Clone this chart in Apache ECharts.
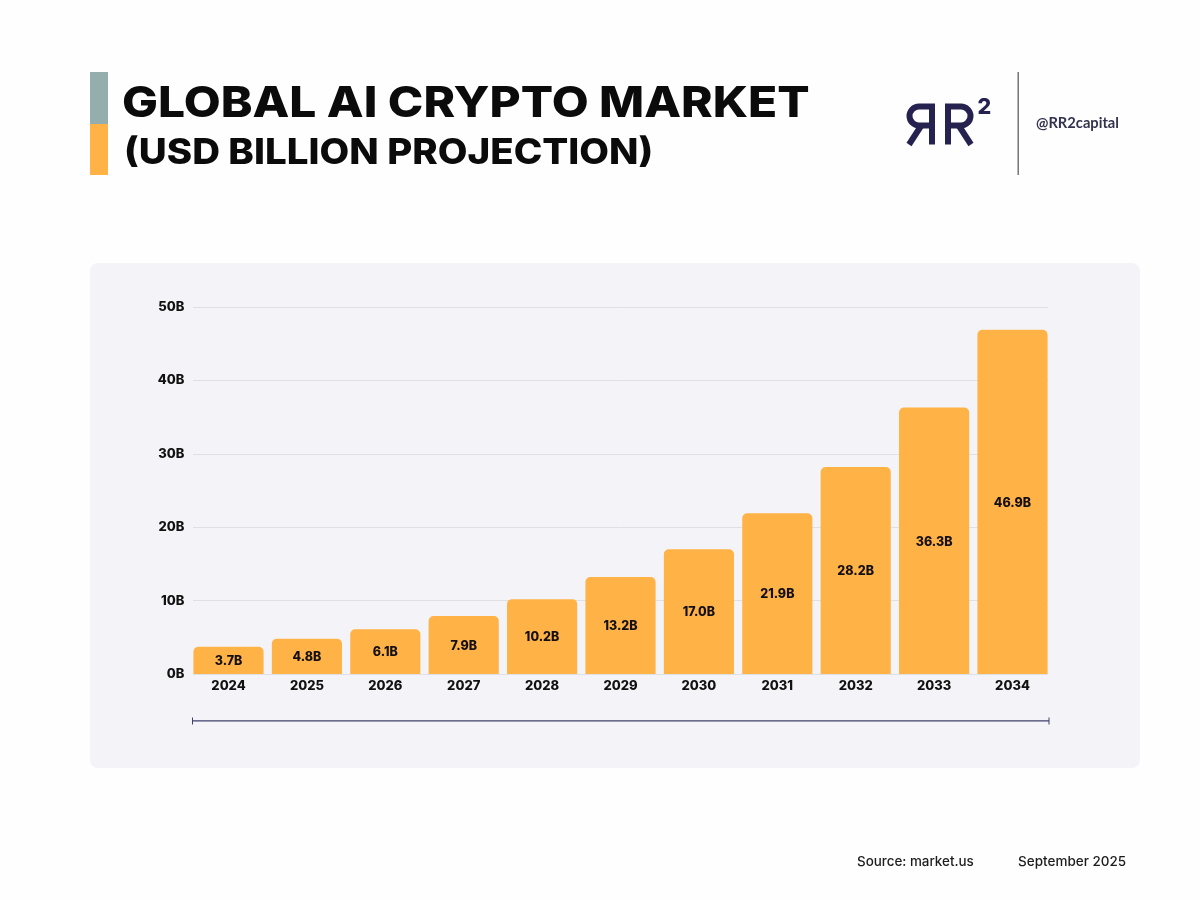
<!DOCTYPE html>
<html><head><meta charset="utf-8">
<style>html,body{margin:0;padding:0;background:#fefefe}#c{width:1200px;height:900px}</style>
<script src="https://cdn.jsdelivr.net/npm/echarts@6/dist/echarts.min.js"></script>
</head><body><div id="c"></div>
<script>
const years = ['2024','2025','2026','2027','2028','2029','2030','2031','2032','2033','2034'];
const marketValues = [3.7,4.8,6.1,7.9,10.2,13.2,17.0,21.9,28.2,36.3,46.9];
const valueTicks = [0,10,20,30,40,50];
const titleLine = 'GLOBAL AI CRYPTO MARKET';
const subtitleLine = '(USD BILLION PROJECTION)';
const handle = '@RR2capital';
const sourceText = 'Source: market.us';
const dateText = 'September 2025';

const F = 'Inter, sans-serif';
const chart = echarts.init(document.getElementById('c'), null, {renderer:'canvas'});
function txt(x,y,text,size,weight,color,extra){
  return Object.assign({type:'text',x:x,y:y,z:10,style:{text:text,font:weight+' '+size+'px '+F,fill:color,textVerticalAlign:'middle'}},extra||{});
}
const logoStroke = {fill:null,stroke:'#26224f',lineWidth:6,lineJoin:'miter'};
function logoR(m){
  const X = x => m ? 1880 - x : x;
  const P = pts => ({type:'polyline',z:10,shape:{points:pts.map(p=>[X(p[0]),p[1]])},style:logoStroke});
  return [
    P([[948,144.5],[948,106.5],[961,106.5]]),
    {type:'arc',z:10,shape:{cx:X(961),cy:116,r:9.5,
      startAngle:m?Math.PI/2:-Math.PI/2,endAngle:m?Math.PI*1.5:Math.PI/2,clockwise:true},style:logoStroke},
    P([[961,125.5],[948,125.5]]),
    P([[959,126],[971,144.5]])
  ];
}
const panel = '#f4f4f8';
chart.setOption({
  animation:false,
  backgroundColor:'#fefefe',
  graphic:{elements:[
    {type:'rect',z:-1,shape:{x:90,y:263,width:1050,height:505,r:8},style:{fill:panel}},
    {type:'rect',z:1,shape:{x:187,y:300,width:6,height:378},style:{fill:panel}},
    {type:'rect',z:1,shape:{x:1048,y:300,width:6,height:378},style:{fill:panel}},
    {type:'rect',shape:{x:90,y:72,width:18,height:52},style:{fill:'#93aeac'}},
    {type:'rect',shape:{x:90,y:124,width:18,height:51},style:{fill:'#ffb347'}},
    txt(122,104,titleLine,43,800,'#0b0b0b',{scaleX:1.113}),
    txt(124,153,subtitleLine,35,800,'#0b0b0b',{scaleX:1.10}),
    {type:'rect',shape:{x:1017.5,y:72,width:1.4,height:103},style:{fill:'#6b6b70'}},
    txt(1036,123.5,handle,14,700,'#33324f',{style:{text:handle,font:'700 14.7px Lato, sans-serif',fill:'#33324f',textVerticalAlign:'middle'}}),
    ...logoR(false),
    ...logoR(true),
    txt(977.5,107.5,'2',21.5,800,'#26224f'),
    {type:'rect',shape:{x:192,y:720.2,width:857,height:1.4},style:{fill:'#3f3f6b'}},
    {type:'rect',shape:{x:192,y:717.5,width:1,height:7},style:{fill:'#3f3f6b'}},
    {type:'rect',shape:{x:1048.5,y:717.5,width:1,height:7},style:{fill:'#3f3f6b'}},
    txt(857,861.5,sourceText,13.4,500,'#1c1c1c'),
    txt(1018,861.5,dateText,13.5,500,'#1c1c1c')
  ]},
  grid:{left:189.3,right:148.3,top:307,bottom:226,containLabel:false},
  xAxis:{type:'category',data:years,
    axisLine:{show:true,lineStyle:{color:'#dfdfe6',width:1}},axisTick:{show:false},
    axisLabel:{margin:6,fontFamily:F,fontWeight:800,fontSize:13,color:'#111'}},
  yAxis:{type:'value',min:0,max:50,interval:10,
    axisLine:{show:false},axisTick:{show:false},
    splitLine:{lineStyle:{color:'#dfdfe6',width:1}},
    axisLabel:{margin:5,padding:[2,0,0,0],fontFamily:F,fontWeight:800,fontSize:13,color:'#111',
      formatter:v=>valueTicks.includes(v)?v+'B':''}},
  series:[{type:'bar',data:marketValues,barCategoryGap:'10.5%',
    itemStyle:{color:'#ffb347',borderRadius:[5,5,0,0]},
    label:{show:true,position:'inside',offset:[0,1],fontFamily:F,fontWeight:800,fontSize:12.5,color:'#140f12',
      formatter:p=>p.value.toFixed(1)+'B'}}]
});
</script></body></html>
